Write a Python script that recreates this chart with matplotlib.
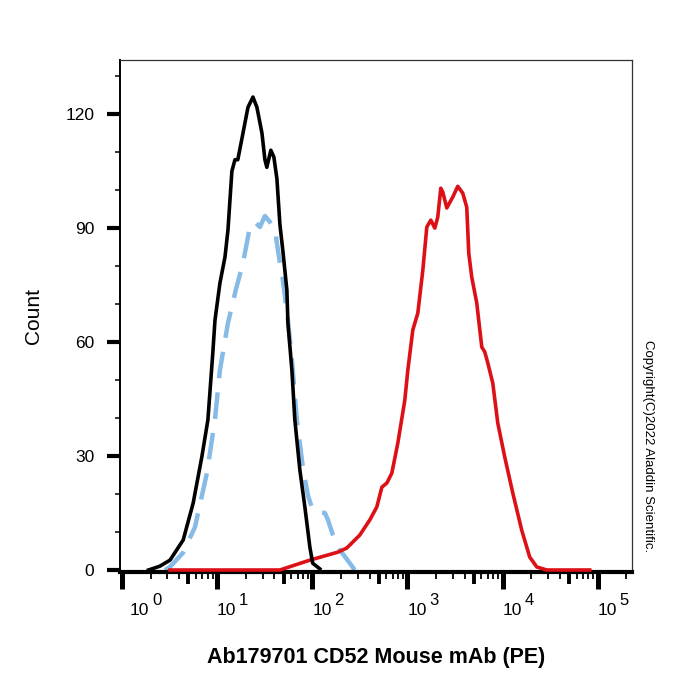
import matplotlib
matplotlib.use("Agg")
import matplotlib.pyplot as plt
import numpy as np

plt.rcParams["font.family"] = ["Liberation Sans", "DejaVu Sans"]

# isotype / unstained control (black)
ctrl_x = [1.9, 2.5, 3.2, 4.4, 5.6, 6.9, 8.0, 9.0, 9.5, 10.7, 12.1, 13.0, 14.3, 15.4,
          16.5, 18.7, 21.1, 23.8, 26.2, 29.6, 31.8, 33.3, 36.7, 39.5, 42.5, 45.7,
          49.1, 54.1, 55.5, 61.1, 65.6, 74.1, 83.6, 94.4, 101, 120]
ctrl_y = [0, 1, 2.6, 7.9, 17.6, 29.7, 39.5, 57, 65.8, 75.5, 82.4, 89.5, 105, 108,
          108, 115, 121.8, 124.5, 121.8, 115, 108, 106, 110.5, 108.7, 103, 91,
          84, 73.7, 65, 52.6, 39.5, 26.3, 16.6, 6, 1.8, 0.3]

# blank (light blue dashed)
blank_x = [2.83, 3.19, 4.37, 5.85, 7.81, 9.48, 10.7, 13.0, 15.7, 18.7, 22.1, 24.9,
           28.2, 31.8, 35.9, 40.5, 45.7, 49.1, 55.5, 61.1, 68.9, 79.6, 89.9, 101,
           120, 136, 146, 165, 195, 248, 280]
blank_y = [0, 0.8, 4.5, 11.3, 25.5, 39.5, 52.6, 65, 73.7, 80.8, 90.3, 91.6,
           90.3, 93.2, 91.6, 89.5, 80.8, 76.3, 65.8, 55.3, 39.5, 27.1, 19.7, 15.8,
           15.3, 15, 13.2, 9.2, 5.3, 1.8, 0]

# CD52 PE stained (red)
cd52_x = [3.2, 45.7, 94.4, 186, 231, 316, 403, 477, 539, 608, 686, 793, 939, 1010,
          1140, 1286, 1452, 1600, 1762, 1941, 2085, 2243, 2353, 2593, 3000, 3383,
          3817, 4204, 4415, 4745, 5355, 6049, 6502, 6998, 7893, 8907, 10550, 12800,
          15900, 19300, 22900, 29100, 82400]
cd52_y = [0, 0, 2.6, 4.7, 5.8, 9.2, 13.2, 16.6, 21.8, 22.9, 25.5, 33.4, 44.7, 52.6,
          63.2, 67.6, 78.9, 90.3, 92.1, 90, 92.9, 100.5, 99.5, 95.3, 98.2, 101,
          99.2, 95.5, 83.4, 77.1, 70.3, 58.7, 57.4, 54.5, 49.2, 38.7, 29.7, 20.3,
          10.5, 3.4, 0.8, 0, 0]

y_major = [0, 30, 60, 90, 120]
decades = [0, 1, 2, 3, 4, 5]

fig = plt.figure(figsize=(7, 7), dpi=100)
ax = fig.add_axes([0.1714, 0.183, 0.731, 0.731])

ax.plot(blank_x, blank_y, color="#86bbe8", lw=3.2, dashes=(6, 3.2), zorder=2,
        solid_capstyle="butt")
ax.plot(cd52_x, cd52_y, color="#dd1016", lw=2.6, zorder=3)
ax.plot(ctrl_x, ctrl_y, color="black", lw=2.6, zorder=4)

ax.set_xscale("log")
ax.set_xlim(0.953, 2.276e5)
ax.set_ylim(-0.5, 134.2)

# y axis
ax.set_yticks(y_major)
ax.set_yticks(np.arange(10, 140, 10), minor=True)
ax.tick_params(axis="y", which="major", direction="out", length=9.4, width=3,
               labelsize=12.5, pad=9)
ax.tick_params(axis="y", which="minor", direction="out", length=3.6, width=1.1)

# x axis: decades big, 5x medium (twin), others small
ax.set_xticks([10.0 ** d for d in decades])
ax.set_xticks([m * 10.0 ** d for d in decades for m in (2, 3, 4, 6, 7, 8, 9)
               if m * 10.0 ** d < 2.3e5], minor=True)
ax.set_xticklabels([])
ax.tick_params(axis="x", which="major", direction="out", length=12, width=3.6)
ax.tick_params(axis="x", which="minor", direction="out", length=5, width=1.3)

ax2 = ax.twiny()
ax2.set_xscale("log")
ax2.set_xlim(ax.get_xlim())
ax2.xaxis.set_ticks_position("bottom")
ax2.set_xticks([5 * 10.0 ** d for d in decades if 5 * 10.0 ** d < 2.3e5])
ax2.set_xticks([], minor=True)
ax2.set_xticklabels([])
ax2.tick_params(axis="x", which="major", direction="out", length=8.5, width=2.8)
for s in ax2.spines.values():
    s.set_visible(False)

# decade labels "10" with raised exponent
trans = ax.get_xaxis_transform()
for d in decades:
    shift = 8 if d == 0 else 0
    ax.annotate("10", xy=(10.0 ** d, 0), xycoords=trans, xytext=(shift, -31),
                textcoords="offset pixels", ha="left", va="top", fontsize=12.5)
    ax.annotate(str(d), xy=(10.0 ** d, 0), xycoords=trans, xytext=(shift + 22, -21),
                textcoords="offset pixels", ha="left", va="top", fontsize=12)

for side in ("top", "right"):
    ax.spines[side].set_linewidth(0.9)
    ax.spines[side].set_color("#333333")
ax.spines["left"].set_linewidth(1.4)
ax.spines["bottom"].set_linewidth(3)

ax.set_ylabel("Count", fontsize=15, labelpad=16)
fig.text(0.538, 0.06, "Ab179701 CD52 Mouse mAb (PE)", ha="center", va="center",
         fontsize=15.5, fontweight="bold")
fig.text(0.926, 0.363, "Copyright(C)2022 Aladdin Scientific.", rotation=270,
         ha="center", va="center", fontsize=9.5)

fig.savefig("out.png", dpi=100)
